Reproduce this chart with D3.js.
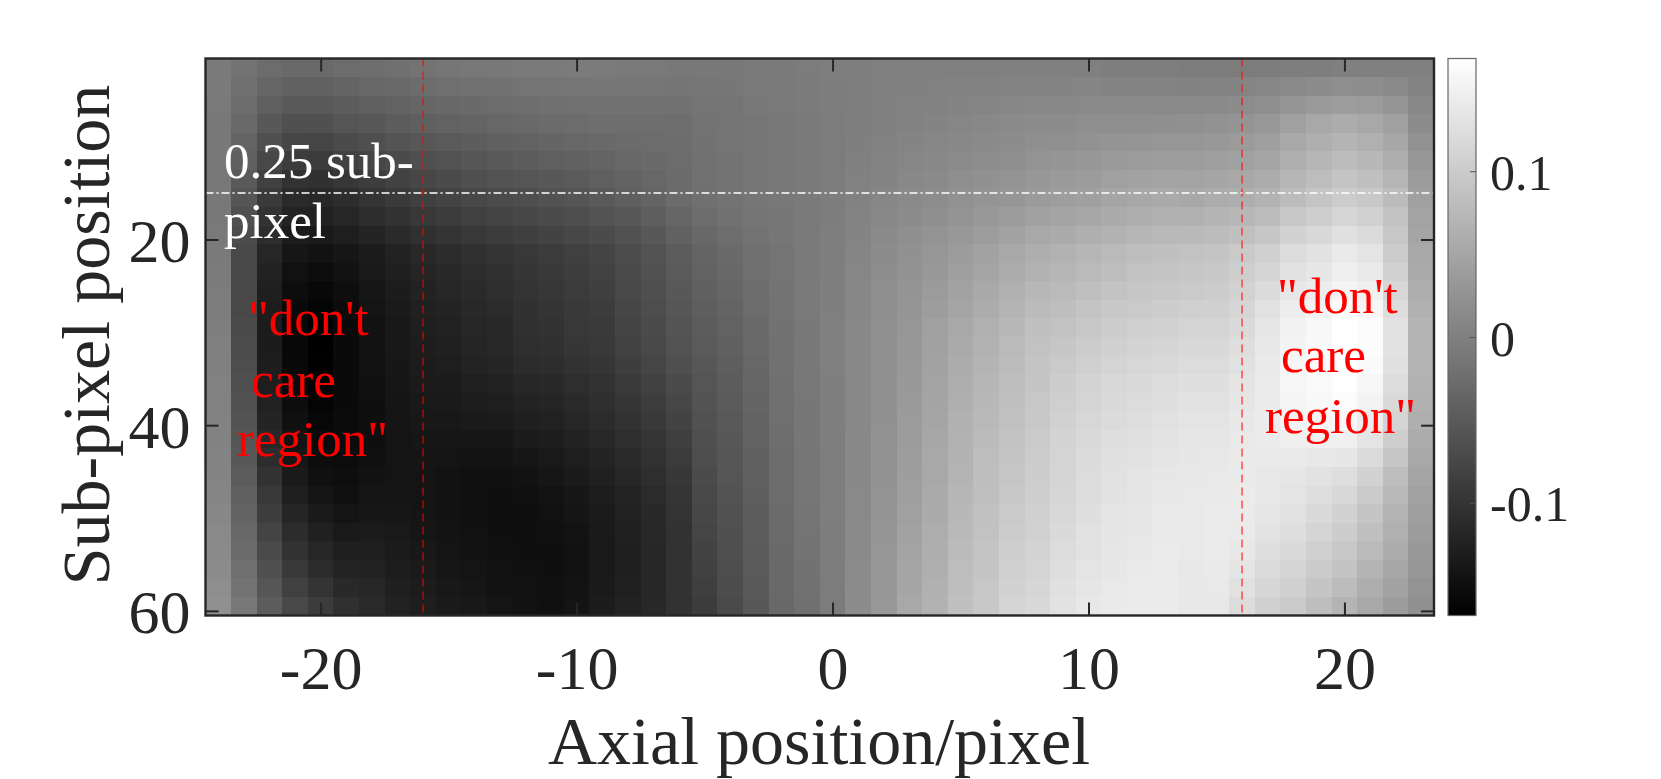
<!DOCTYPE html>
<html><head><meta charset="utf-8">
<style>html,body{margin:0;padding:0;background:#fff}svg{display:block}text{font-family:"Liberation Serif",serif}</style>
<script src="https://cdn.jsdelivr.net/npm/d3@7/dist/d3.min.js"></script>
</head><body><svg id="c" width="1661" height="779"></svg>
<script>
// Heatmap grey level (0 = z min, 255 = z max).
// One array per axial position, top to bottom; each entry covers two sub-pixel rows.
const axialPositions = d3.range(-24, 24);
const zRange = [-0.168, 0.168];
const greyLevels = [
[122,122,121,120,120,120,120,120,120,121,122,123,124,125,126,128,128,129,129,130,130,131,132,133,135,137,138,140,142,144],
[115,112,109,105,100,96,90,85,80,76,72,72,72,72,74,76,77,79,81,83,85,88,92,95,99,103,107,111,115,120],
[108,102,95,88,80,72,65,58,51,45,38,34,31,29,28,28,29,30,33,36,40,45,50,56,62,68,74,80,86,92],
[105,97,89,80,70,60,50,42,35,28,22,17,13,10,8,8,9,10,13,16,19,22,26,31,37,44,50,57,64,72],
[105,97,89,80,69,59,49,40,33,26,18,13,8,4,1,0,1,2,4,7,10,13,16,20,26,32,38,44,52,60],
[108,100,92,85,75,65,55,45,38,30,22,18,14,12,10,10,10,10,10,11,11,12,14,16,20,25,30,35,41,48],
[110,103,95,88,79,70,61,52,45,36,28,25,22,20,18,18,17,16,15,15,15,16,18,20,23,27,30,34,38,42],
[112,105,98,92,84,75,66,58,50,42,34,31,28,26,24,24,23,22,21,20,20,20,20,21,23,25,27,29,31,34],
[115,108,102,95,87,79,71,64,56,48,40,37,34,32,30,29,28,27,25,24,22,21,20,20,21,22,24,26,28,30],
[118,111,104,98,90,82,75,68,60,52,44,41,38,35,33,32,30,28,26,24,22,20,18,18,18,19,20,22,24,26],
[120,113,106,100,93,86,79,72,64,56,48,45,42,40,38,37,35,32,29,26,23,19,16,16,16,17,18,20,22,24],
[120,114,108,103,96,89,82,75,68,60,52,49,46,43,41,40,37,34,30,27,23,19,16,15,15,15,16,17,18,20],
[122,116,110,105,98,92,85,78,71,63,56,53,51,49,48,46,43,39,35,31,27,22,18,16,15,15,15,16,17,18],
[122,117,112,107,101,95,88,82,75,67,60,57,55,52,50,48,45,41,37,33,29,25,22,19,17,16,15,15,16,16],
[123,118,113,108,103,97,91,85,78,71,64,61,59,57,56,54,50,46,42,38,34,30,26,23,21,19,18,18,19,20],
[123,119,114,110,105,100,95,90,83,75,68,66,63,60,58,57,53,50,47,43,40,36,32,29,27,26,25,25,26,28],
[122,118,114,110,107,103,99,95,88,81,76,74,72,70,68,66,62,58,54,50,46,42,38,35,33,32,31,31,32,34],
[122,118,114,110,108,106,103,100,94,88,83,81,79,77,75,73,69,65,61,57,53,50,46,43,41,40,39,39,39,40],
[120,117,113,110,109,108,107,107,102,97,92,90,88,86,84,82,79,75,71,67,63,59,55,53,51,50,50,50,50,50],
[120,118,116,115,114,113,113,112,109,104,100,98,96,94,92,90,87,85,83,81,79,77,75,73,71,69,67,65,63,60],
[120,119,117,116,116,115,115,115,113,110,106,104,102,100,98,96,94,92,91,89,88,86,85,83,81,80,79,77,76,74],
[122,121,120,118,118,118,118,118,117,115,112,111,109,108,106,105,103,102,101,99,98,96,95,94,93,92,91,90,89,88],
[122,121,121,120,120,120,120,120,119,118,116,116,115,115,114,113,113,112,112,111,110,109,108,108,107,107,106,106,105,104],
[124,123,123,122,122,122,122,122,122,122,122,122,121,121,120,120,120,120,119,119,119,118,118,118,117,116,115,114,113,112],
[126,125,125,124,124,124,125,125,125,126,126,126,127,127,128,128,128,127,127,127,126,126,126,126,126,125,125,125,124,124],
[126,126,126,126,127,128,129,130,131,132,133,134,135,135,136,136,136,136,136,136,136,136,136,137,137,138,138,139,139,140],
[128,128,128,128,129,131,132,134,136,138,140,141,142,143,144,144,144,145,145,145,146,146,146,147,148,149,150,150,151,152],
[128,128,129,130,132,134,136,138,140,143,145,146,148,149,150,151,152,153,154,155,156,157,158,159,160,162,163,165,166,168],
[128,129,130,132,134,136,138,140,143,147,150,152,155,157,160,161,162,163,164,165,167,168,168,170,171,173,174,175,177,178],
[128,130,132,134,136,139,142,145,148,152,156,159,162,165,168,170,172,173,175,177,178,179,180,182,184,185,187,189,190,192],
[128,130,133,136,138,141,145,148,152,157,162,165,169,172,176,178,180,182,184,185,187,189,190,191,193,194,196,197,199,200],
[128,131,135,138,140,143,147,150,156,162,168,172,176,180,184,186,188,190,192,193,195,197,198,200,202,204,206,208,210,212],
[128,132,136,140,143,147,151,155,161,168,174,178,183,187,192,194,196,197,199,200,202,204,205,206,208,209,211,212,214,216],
[128,132,136,140,144,149,154,158,164,171,178,182,186,190,194,198,202,205,207,209,211,212,213,214,216,218,220,222,224,226],
[128,133,137,142,146,151,156,160,167,175,182,186,191,196,200,204,208,211,213,215,217,219,220,221,223,225,226,228,230,232],
[126,131,137,142,148,154,160,165,171,178,186,190,195,200,204,208,212,215,217,219,222,224,225,226,228,229,230,231,233,234],
[126,131,137,142,149,155,162,168,174,182,190,194,198,202,207,211,215,218,220,222,224,226,228,229,230,231,232,234,235,236],
[126,131,137,143,150,157,164,170,177,185,192,196,200,205,209,213,217,220,223,225,227,229,231,232,233,234,235,235,236,236],
[124,130,137,144,150,157,163,168,176,185,194,198,202,207,212,216,220,223,226,228,230,231,232,233,233,233,233,232,232,232],
[124,131,138,146,152,159,166,172,180,188,196,200,204,208,212,216,220,223,226,228,230,232,233,234,235,235,235,234,233,232],
[124,132,140,148,155,161,168,174,183,192,202,206,210,214,218,222,225,228,230,232,233,234,234,235,235,234,232,229,225,220],
[125,134,143,152,159,165,172,178,188,198,208,213,219,225,230,232,234,235,236,236,235,234,232,232,230,227,223,219,214,208],
[126,137,149,160,168,175,182,188,199,210,220,225,231,237,242,244,246,246,245,243,239,234,230,228,225,222,218,213,208,202],
[126,140,154,168,175,182,189,196,206,216,226,231,236,242,248,249,250,250,248,245,240,232,226,222,218,213,208,203,197,190],
[128,142,157,172,180,188,196,204,214,224,234,239,244,250,255,255,255,254,252,247,240,231,222,216,210,205,200,195,188,180],
[128,141,155,168,176,184,192,200,209,219,228,234,240,246,252,252,250,247,243,236,228,219,210,203,197,192,186,180,174,168],
[128,138,149,160,167,174,181,188,194,199,204,210,215,221,226,226,224,221,217,212,206,198,190,185,180,176,172,167,162,156],
[128,132,136,140,146,151,156,160,163,165,168,171,174,177,180,180,180,179,177,175,172,168,165,162,159,156,153,150,147,144]
];
const xTicks = [-20,-10,0,10,20];
const yTicks = [20,40,60];
const cbTicks = [-0.1,0,0.1];
const guideX = [-16,16];
const guideRow = [15];
const xLabel = "Axial position/pixel";
const yLabel = "Sub-pixel position";
const whiteNote = ["0.25 sub-","pixel"];
const redNote = ['"don\'t',"care",'region"'];

const ink="#262626";
const svg=d3.select("#c");
const L=205.5,R=1434,T=58.5,B=615.5;
const x=d3.scaleLinear().domain([-24.5,23.5]).range([L,R]);
const y=d3.scaleLinear().domain([0.5,60.5]).range([T,B]);
const level=d3.scaleLinear().domain([0,255]).range(zRange);
const grey=d3.scaleLinear().domain(zRange).range(["#000","#fff"]);

const cells=[];
greyLevels.forEach((col,i)=>col.forEach((g,k)=>cells.push({ax:axialPositions[i],row:k*2+1,z:level(g)})));
svg.append("g").attr("shape-rendering","crispEdges").selectAll("rect").data(cells).join("rect")
 .attr("x",d=>x(d.ax-0.5)).attr("width",d=>x(d.ax+0.5)-x(d.ax-0.5)+0.5)
 .attr("y",d=>y(d.row-0.5)).attr("height",d=>y(d.row+1.5)-y(d.row-0.5)+0.5)
 .attr("fill",d=>grey(d.z));

// guide lines
svg.append("g").selectAll("line").data(guideX).join("line")
 .attr("x1",d=>x(d)).attr("x2",d=>x(d)).attr("y1",T).attr("y2",B)
 .attr("stroke","#ff0000").attr("stroke-width",1).attr("stroke-dasharray","8 5");
svg.append("g").selectAll("line").data(guideRow).join("line")
 .attr("x1",L).attr("x2",R).attr("y1",d=>y(d)).attr("y2",d=>y(d))
 .attr("stroke","#fff").attr("stroke-width",1.5).attr("stroke-dasharray","8 3 2 3");

// axes
function style(g,size){
 g.select(".domain").remove();
 g.selectAll("line").attr("stroke",ink).attr("stroke-width",2);
 g.selectAll("text").attr("fill",ink).attr("font-size",size);
}
const tl=13;
svg.append("g").attr("transform",`translate(0,${B})`)
 .call(d3.axisBottom(x).tickValues(xTicks).tickSize(-tl).tickFormat(String))
 .call(g=>style(g,62)).call(g=>g.selectAll("text").attr("y",0).attr("dy",0).attr("transform","translate(0,73.5)"));
svg.append("g").attr("transform",`translate(0,${T})`)
 .call(d3.axisTop(x).tickValues(xTicks).tickSize(-tl).tickFormat(""))
 .call(g=>style(g,0));
svg.append("g").attr("transform",`translate(${L},0)`)
 .call(d3.axisLeft(y).tickValues(yTicks).tickSize(-tl).tickFormat(String))
 .call(g=>style(g,62)).call(g=>g.selectAll("text").attr("x",-15).attr("dy",0).attr("transform","translate(0,22)"));
svg.append("g").attr("transform",`translate(${R},0)`)
 .call(d3.axisRight(y).tickValues(yTicks).tickSize(-tl).tickFormat(""))
 .call(g=>style(g,0));
svg.append("rect").attr("x",L).attr("y",T).attr("width",R-L).attr("height",B-T)
 .attr("fill","none").attr("stroke",ink).attr("stroke-width",2.4);

// colorbar
const CL=1448,CR=1476;
const cy=d3.scaleLinear().domain(zRange).range([B,T]);
const nSteps=128;
const dz=(zRange[1]-zRange[0])/nSteps;
const steps=d3.range(nSteps).map(i=>zRange[0]+(i+0.5)*dz);
svg.append("g").attr("shape-rendering","crispEdges").selectAll("rect").data(steps).join("rect")
 .attr("x",CL).attr("width",CR-CL).attr("y",d=>cy(d+dz/2)).attr("height",d=>cy(d-dz/2)-cy(d+dz/2)+0.5)
 .attr("fill",d=>grey(d));
svg.append("rect").attr("x",CL).attr("y",T).attr("width",CR-CL).attr("height",B-T)
 .attr("fill","none").attr("stroke","#666").attr("stroke-width",1.2);
svg.append("g").attr("transform",`translate(${CR},0)`)
 .call(d3.axisRight(cy).tickValues(cbTicks).tickSize(-6).tickFormat(String))
 .call(g=>style(g,50))
 .call(g=>g.selectAll("line").attr("stroke-width",1).attr("stroke","#555"))
 .call(g=>g.selectAll("text").attr("x",14).attr("dy",0).attr("transform","translate(0,18)"));

// labels
svg.append("text").attr("x",819).attr("y",763.5).attr("text-anchor","middle").attr("font-size",68).attr("fill",ink).text(xLabel);
svg.append("text").attr("transform","translate(109,335) rotate(-90)").attr("text-anchor","middle").attr("font-size",68).attr("fill",ink).text(yLabel);

// notes
function note(lines,xs,ys,fill){
 svg.append("g").selectAll("text").data(lines).join("text")
  .attr("x",(d,i)=>xs[i]).attr("y",(d,i)=>ys[i]).attr("font-size",51).attr("fill",fill).text(d=>d);
}
note(whiteNote,[224,224],[178,238],"#fff");
note(redNote,[248,251,237],[335,397,456],"#ff0000");
note(redNote,[1277,1281,1265],[313,372,433],"#ff0000");
</script></body></html>
